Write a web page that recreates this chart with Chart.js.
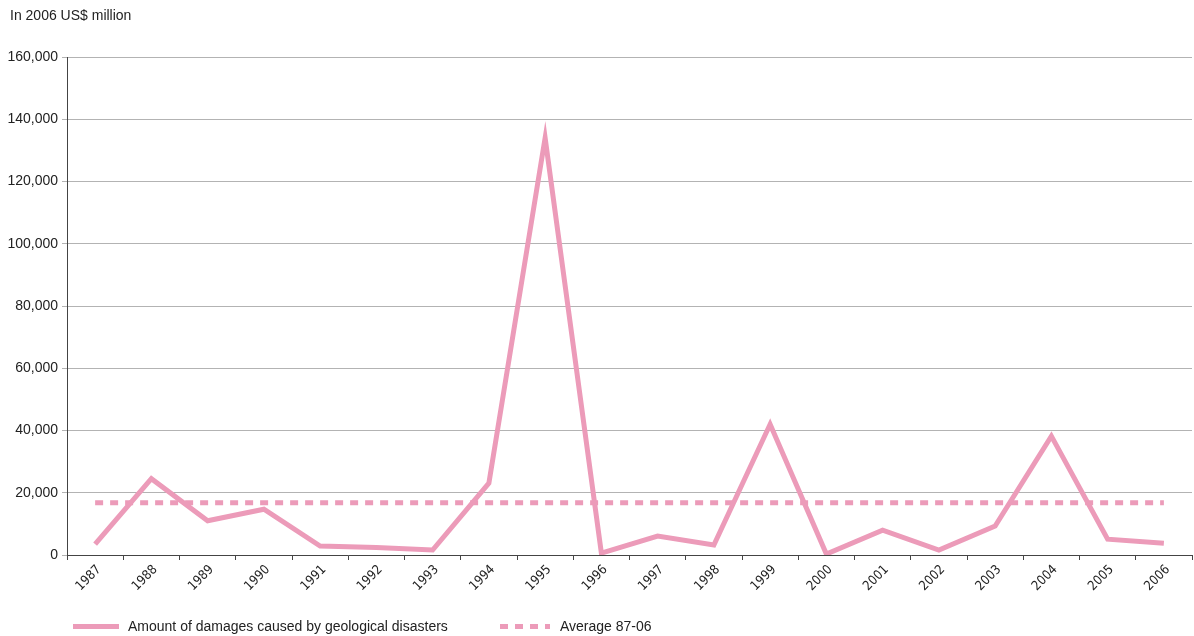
<!DOCTYPE html>
<html>
<head>
<meta charset="utf-8">
<script src="https://cdn.jsdelivr.net/npm/chart.js@4/dist/chart.umd.min.js"></script>
<style>
  body { margin: 0; background: #fff; font-family: "Liberation Sans", Arial, sans-serif; color: #222; }
  #wrap { position: relative; width: 1194px; height: 636px; }
  #unit { position: absolute; left: 10px; top: 7px; font-size: 14px; }
  .key { position: absolute; top: 618px; font-size: 14px; line-height: 17px; }
  .swatch { position: absolute; top: 6px; height: 5px; }
  .solid { background: #ec9bb9; }
  .dashed { background: repeating-linear-gradient(90deg, #ec9bb9 0 8px, transparent 8px 15px); }
</style>
</head>
<body>
<div id="wrap">
  <canvas id="chart" width="1194" height="636"></canvas>
  <div id="unit">In 2006 US$ million</div>
  <div class="key" style="left:73px"><span class="swatch solid" style="left:0;width:46px"></span><span style="margin-left:55px">Amount of damages caused by geological disasters</span></div>
  <div class="key" style="left:500px"><span class="swatch dashed" style="left:0;width:50px"></span><span style="margin-left:60px">Average 87-06</span></div>
</div>
<script>
const years = ['1987', '1988', '1989', '1990', '1991', '1992', '1993', '1994', '1995', '1996',
               '1997', '1998', '1999', '2000', '2001', '2002', '2003', '2004', '2005', '2006'];
const damages = [3500, 24500, 11000, 14700, 2900, 2400, 1600, 23100, 134000, 600,
                 6100, 3200, 42000, 300, 8000, 1600, 9300, 38200, 5100, 3800];
const average = 16800;
const yTicks = [0, 20000, 40000, 60000, 80000, 100000, 120000, 140000, 160000];

const pink = '#ec9bb9';
const sans = '"Liberation Sans", Arial, sans-serif';
const narrow = '"Liberation Sans Narrow", "Arial Narrow", "DejaVu Sans Condensed", sans-serif';

new Chart(document.getElementById('chart'), {
  type: 'line',
  data: {
    labels: years,
    datasets: [
      {
        label: 'Amount of damages caused by geological disasters',
        data: damages,
        borderColor: pink,
        borderWidth: 5,
        borderJoinStyle: 'miter',
        pointRadius: 0,
        tension: 0
      },
      {
        label: 'Average 87-06',
        data: years.map(() => average),
        borderColor: pink,
        borderWidth: 5,
        borderDash: [8, 7],
        borderCapStyle: 'butt',
        pointRadius: 0
      }
    ]
  },
  options: {
    responsive: false,
    animation: false,
    devicePixelRatio: 1,
    layout: { padding: { top: 57, right: 2, left: 0, bottom: 0 } },
    plugins: { legend: { display: false }, tooltip: { enabled: false } },
    scales: {
      x: {
        offset: true,
        grid: { drawOnChartArea: false, drawTicks: true, tickLength: 5, color: '#444', offset: true },
        border: { color: '#444', width: 1 },
        ticks: {
          color: '#222',
          font: { family: narrow, size: 13 },
          minRotation: 45,
          maxRotation: 45,
          padding: 2,
          labelOffset: 4,
          autoSkip: false
        },
        afterFit: s => { s.height = 81; }
      },
      y: {
        min: 0,
        max: 160000,
        afterBuildTicks: s => { s.ticks = yTicks.map(v => ({ value: v })); },
        grid: { color: '#b3b3b3', tickLength: 5, lineWidth: 1 },
        border: { color: '#444', width: 1 },
        ticks: {
          color: '#222',
          font: { family: sans, size: 14 },
          padding: 4,
          callback: v => v.toLocaleString('en-US')
        },
        afterFit: s => { s.width = 67; }
      }
    }
  }
});
</script>
</body>
</html>
